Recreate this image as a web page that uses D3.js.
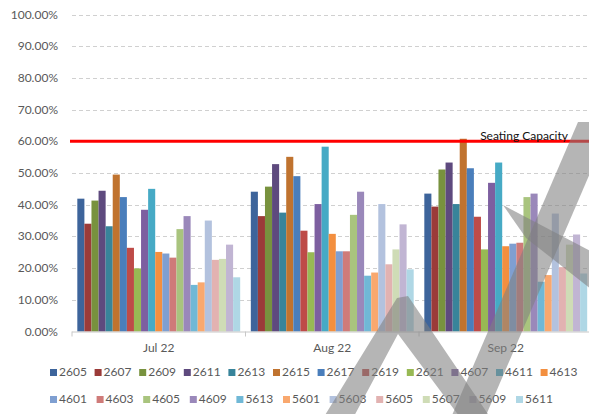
<!DOCTYPE html>
<html>
<head>
<meta charset="utf-8">
<script src="https://cdn.jsdelivr.net/npm/d3@7"></script>
<style>
  body { margin: 0; background: #fff; }
  svg { display: block; font-family: Lato, "Open Sans", sans-serif; }
</style>
</head>
<body>
<svg id="chart" width="589" height="414"></svg>
<script>
// months on the x axis
const months = ["Jul 22", "Aug 22", "Sep 22"];

// series (room codes) in legend order
const seriesNames = ["2605", "2607", "2609", "2611", "2613", "2615", "2617", "2619", "2621", "4607", "4611", "4613",
  "4601", "4603", "4605", "4609", "5613", "5601", "5603", "5605", "5607", "5609", "5611"];

const seriesColors = ["#3d649b", "#9b3b39", "#78923e", "#5e4a7e", "#38849a", "#c0732f", "#4a7ebb", "#be4b48",
  "#98b954", "#7d5fa0", "#46aac5", "#f38f3f", "#7f9fd1", "#cf7b79", "#a9c47e", "#9a88ba", "#70b8d6", "#f9a86e",
  "#b3c2de", "#e2b2b1", "#cfdcb6", "#c1b5d3", "#afd7e5"];

// utilisation per series, one array per month
const julValues = [0.419, 0.340, 0.413, 0.444, 0.332, 0.495, 0.424, 0.264, 0.199, 0.384, 0.450, 0.251,
  0.246, 0.233, 0.323, 0.364, 0.147, 0.155, 0.350, 0.226, 0.229, 0.274, 0.171];
const augValues = [0.441, 0.364, 0.457, 0.528, 0.375, 0.551, 0.490, 0.318, 0.250, 0.402, 0.583, 0.308,
  0.253, 0.253, 0.368, 0.441, 0.176, 0.186, 0.402, 0.212, 0.259, 0.338, 0.196];
const sepValues = [0.435, 0.394, 0.511, 0.533, 0.402, 0.608, 0.515, 0.362, 0.259, 0.469, 0.533, 0.269,
  0.277, 0.280, 0.424, 0.435, 0.157, 0.178, 0.372, 0.203, 0.274, 0.306, 0.183];

const yTicks = [0, 0.1, 0.2, 0.3, 0.4, 0.5, 0.6, 0.7, 0.8, 0.9, 1.0];
const capacity = 0.6;

const monthValues = [julValues, augValues, sepValues];

const svg = d3.select("#chart");
const plotLeft = 72, plotRight = 592.5, plotTop = 14.5, plotBottom = 331.5;

const x0 = d3.scaleBand().domain(months).range([plotLeft, plotRight]);
const x1 = d3.scaleBand().domain(seriesNames).range([0, x0.bandwidth()]).paddingInner(0).paddingOuter(0.75);
const y = d3.scaleLinear().domain([0, 1]).range([plotBottom, plotTop]);
const color = d3.scaleOrdinal().domain(seriesNames).range(seriesColors);

// gridlines
svg.append("g")
  .selectAll("line")
  .data(yTicks.filter(d => d > 0))
  .join("line")
  .attr("x1", plotLeft).attr("x2", 589)
  .attr("y1", d => Math.round(y(d)) + 0.5).attr("y2", d => Math.round(y(d)) + 0.5)
  .attr("stroke", "#d0d0d0")
  .attr("stroke-dasharray", "4,3");

// y tick labels
svg.append("g")
  .selectAll("text")
  .data(yTicks)
  .join("text")
  .attr("x", 58)
  .attr("y", d => y(d) + 4)
  .attr("text-anchor", "end")
  .attr("font-size", 12)
  .attr("fill", "#595959")
  .text(d => d3.format(".2%")(d));

// bars
const groups = svg.append("g")
  .selectAll("g")
  .data(months)
  .join("g")
  .attr("transform", d => `translate(${x0(d)},0)`);

groups.selectAll("rect")
  .data((m, i) => seriesNames.map((s, j) => ({ s, v: monthValues[i][j] })))
  .join("rect")
  .attr("x", d => x1(d.s))
  .attr("width", x1.bandwidth())
  .attr("y", d => y(d.v))
  .attr("height", d => plotBottom - y(d.v))
  .attr("fill", d => color(d.s));

// x axis
const xAxis = svg.append("g");
xAxis.append("line")
  .attr("x1", plotLeft).attr("x2", 589)
  .attr("y1", plotBottom + 0.5).attr("y2", plotBottom + 0.5)
  .attr("stroke", "#c8c8c8");
xAxis.selectAll(".tick")
  .data(months.map(m => x0(m)).concat([plotRight]))
  .join("line")
  .attr("x1", d => d).attr("x2", d => d)
  .attr("y1", plotBottom).attr("y2", plotBottom + 5)
  .attr("stroke", "#c8c8c8");
xAxis.selectAll("text")
  .data(months)
  .join("text")
  .attr("x", d => x0(d) + x0.bandwidth() / 2)
  .attr("y", 352)
  .attr("text-anchor", "middle")
  .attr("font-size", 12)
  .attr("fill", "#595959")
  .text(d => d);

// seating capacity line
svg.append("line")
  .attr("x1", 70).attr("x2", 589)
  .attr("y1", y(capacity)).attr("y2", y(capacity))
  .attr("stroke", "#ff0000")
  .attr("stroke-width", 3);
svg.append("text")
  .attr("x", 568)
  .attr("y", y(capacity) - 1)
  .attr("text-anchor", "end")
  .attr("font-size", 12)
  .attr("fill", "#111")
  .text("Seating Capacity");

// legend, two rows
const rows = [seriesNames.slice(0, 12), seriesNames.slice(12)];
const rowStep = [44.6, 46.6];
const rowY = [376, 403];
rows.forEach((names, r) => {
  const g = svg.append("g");
  const item = g.selectAll("g")
    .data(names)
    .join("g")
    .attr("transform", (d, i) => `translate(${50 + i * rowStep[r]},${rowY[r]})`);
  item.append("rect")
    .attr("x", 0).attr("y", -7)
    .attr("width", 7).attr("height", 7)
    .attr("fill", d => color(d));
  item.append("text")
    .attr("x", 9).attr("y", 0)
    .attr("font-size", 12)
    .attr("fill", "#595959")
    .text(d => d);
});

// grey watermark strokes drawn over everything
const wm = [
  [[397, 298], [408, 296], [492, 420], [462, 420], [398, 334], [352, 420], [322, 420]],
  [[578, 122], [612, 122], [484, 420], [450, 420]],
  [[503, 205], [600, 256], [600, 296], [526, 238]]
];
svg.append("g")
  .selectAll("polygon")
  .data(wm)
  .join("polygon")
  .attr("points", d => d.map(p => p.join(",")).join(" "))
  .attr("fill", "#7f7f7f")
  .attr("fill-opacity", 0.58);
</script>
</body>
</html>
